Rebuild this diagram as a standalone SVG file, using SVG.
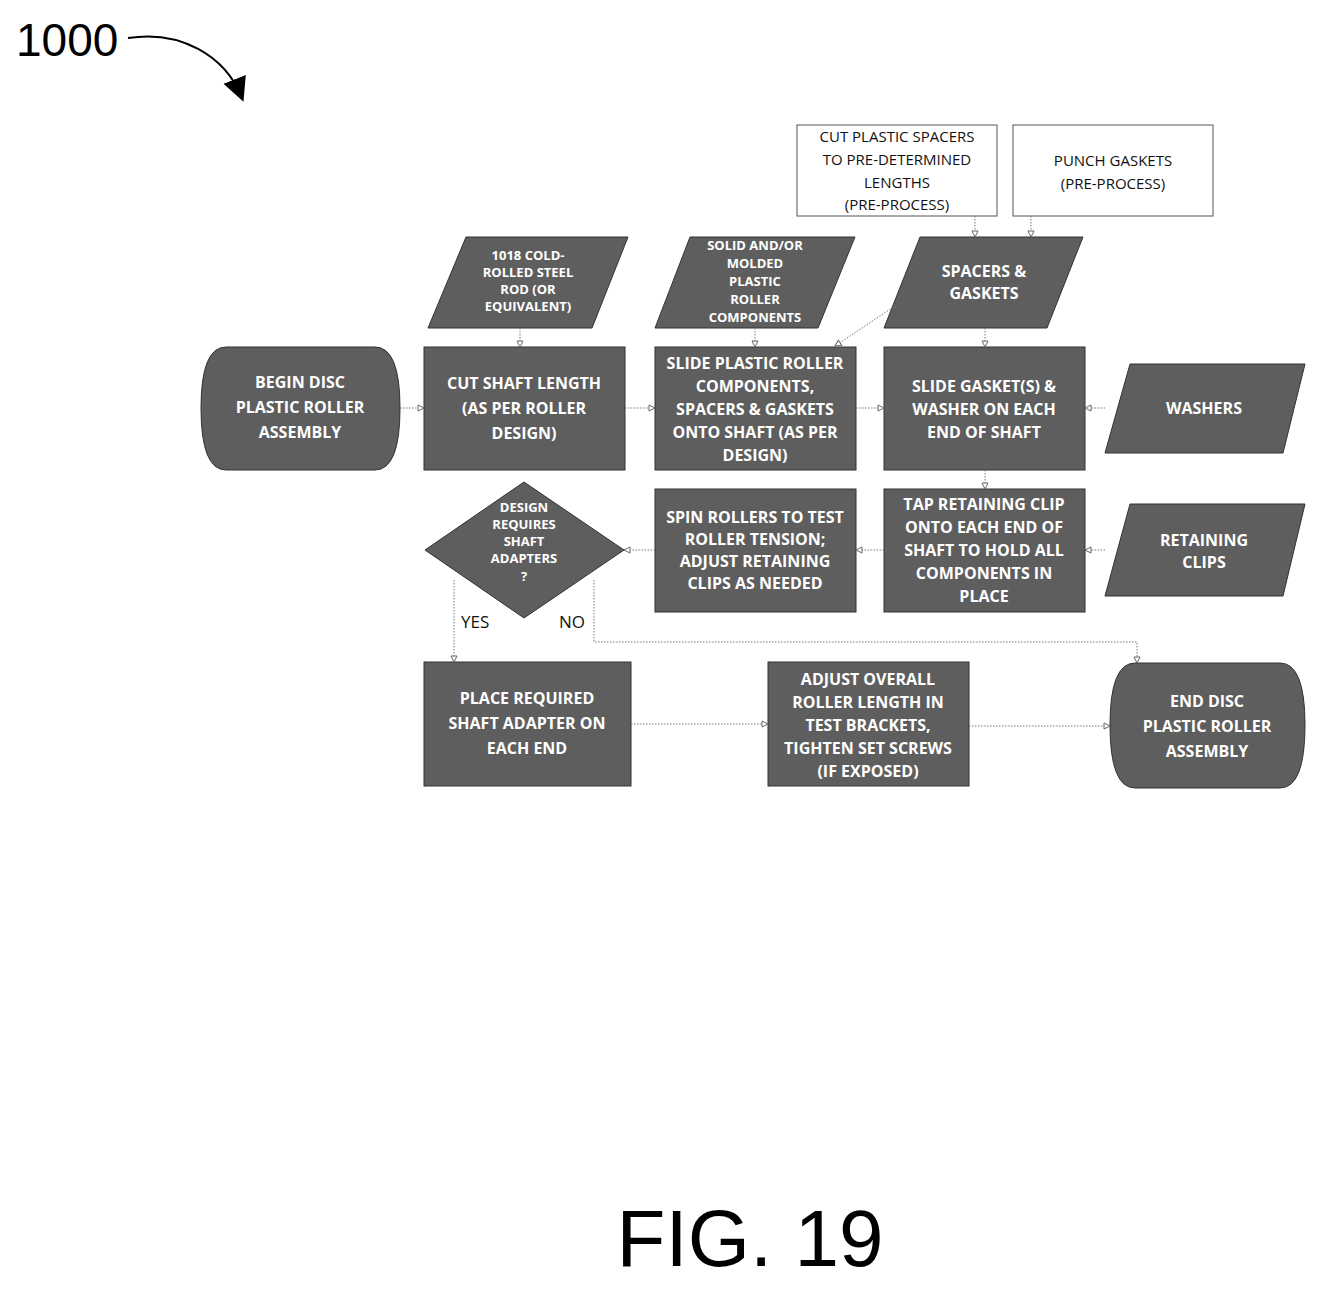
<svg xmlns="http://www.w3.org/2000/svg" width="1327" height="1297" viewBox="0 0 1327 1297">
<defs>
<marker id="ah" markerWidth="8" markerHeight="8" refX="7" refY="4" orient="auto" markerUnits="userSpaceOnUse"><path d="M1,1 L7,4 L1,7 Z" fill="#fff" stroke="#666" stroke-width="1"/></marker>
<marker id="big" markerWidth="30" markerHeight="30" refX="20" refY="12" orient="auto" markerUnits="userSpaceOnUse"><path d="M0,0 L24,12 L0,24 Z" fill="#000"/></marker>
</defs>
<style>
.n{fill:#5e5e5e;stroke:#333;stroke-width:1}
.p{fill:#fff;stroke:#555;stroke-width:1}
.t{font-family:"Open Sans","Liberation Sans",sans-serif;font-weight:bold;fill:#fff;text-anchor:middle;font-size:16px}
.ts{font-size:13px}
.tb{font-family:"Open Sans","Liberation Sans",sans-serif;fill:#111;text-anchor:middle;font-size:15px}
.c{fill:none;stroke:#777;stroke-width:1;stroke-dasharray:1.5 1.5;marker-end:url(#ah)}
</style>
<rect width="1327" height="1297" fill="#fff"/>
<text x="16" y="56" font-family="Liberation Sans,sans-serif" font-size="46">1000</text>
<path d="M128,38 C180,30 225,55 242,98" fill="none" stroke="#000" stroke-width="2" marker-end="url(#big)"/>
<g id="pre1"><rect class="p" x="797" y="125" width="200" height="91"/><text class="tb" x="897" y="142">CUT PLASTIC SPACERS<tspan x="897" dy="23">TO PRE-DETERMINED</tspan><tspan x="897" dy="23">LENGTHS</tspan><tspan x="897" dy="22">(PRE-PROCESS)</tspan></text></g>
<g id="pre2"><rect class="p" x="1013" y="125" width="200" height="91"/><text class="tb" x="1113" y="166">PUNCH GASKETS<tspan x="1113" dy="23">(PRE-PROCESS)</tspan></text></g>
<g id="steel"><polygon class="n" points="466,237 628,237 592,328 428,328"/><text class="t ts" x="528" y="260">1018 COLD-<tspan x="528" dy="17">ROLLED STEEL</tspan><tspan x="528" dy="17">ROD (OR</tspan><tspan x="528" dy="17">EQUIVALENT)</tspan></text></g>
<g id="solid"><polygon class="n" points="690,237 855,237 818,328 655,328"/><text class="t ts" x="755" y="250">SOLID AND/OR<tspan x="755" dy="18">MOLDED</tspan><tspan x="755" dy="18">PLASTIC</tspan><tspan x="755" dy="18">ROLLER</tspan><tspan x="755" dy="18">COMPONENTS</tspan></text></g>
<g id="spacers"><polygon class="n" points="920,237 1083,237 1047,328 884,328"/><text class="t" x="984" y="277">SPACERS &amp;<tspan x="984" dy="22">GASKETS</tspan></text></g>
<g id="begin"><path class="n" d="M226,347 L375,347 Q400,347 400,408 Q400,470 375,470 L226,470 Q201,470 201,408 Q201,347 226,347 Z"/><text class="t" x="300" y="388">BEGIN DISC<tspan x="300" dy="25">PLASTIC ROLLER</tspan><tspan x="300" dy="25">ASSEMBLY</tspan></text></g>
<g id="cut"><rect class="n" x="424" y="347" width="201" height="123"/><text class="t" x="524" y="389" font-size="18">CUT SHAFT LENGTH<tspan x="524" dy="25">(AS PER ROLLER</tspan><tspan x="524" dy="25">DESIGN)</tspan></text></g>
<g id="slide"><rect class="n" x="655" y="347" width="201" height="123"/><text class="t" x="755" y="369">SLIDE PLASTIC ROLLER<tspan x="755" dy="23">COMPONENTS,</tspan><tspan x="755" dy="23">SPACERS &amp; GASKETS</tspan><tspan x="755" dy="23">ONTO SHAFT (AS PER</tspan><tspan x="755" dy="23">DESIGN)</tspan></text></g>
<g id="gasket"><rect class="n" x="884" y="347" width="201" height="123"/><text class="t" x="984" y="392">SLIDE GASKET(S) &amp;<tspan x="984" dy="23">WASHER ON EACH</tspan><tspan x="984" dy="23">END OF SHAFT</tspan></text></g>
<g id="washers"><polygon class="n" points="1130,364 1305,364 1283,453 1105,453"/><text class="t" x="1204" y="414">WASHERS</text></g>
<g id="decision"><polygon class="n" points="524,482 624,550 524,618 425,550"/><text class="t ts" x="524" y="512">DESIGN<tspan x="524" dy="17">REQUIRES</tspan><tspan x="524" dy="17">SHAFT</tspan><tspan x="524" dy="17">ADAPTERS</tspan><tspan x="524" dy="18">?</tspan></text></g>
<g id="spin"><rect class="n" x="655" y="489" width="201" height="123"/><text class="t" x="755" y="523">SPIN ROLLERS TO TEST<tspan x="755" dy="22">ROLLER TENSION;</tspan><tspan x="755" dy="22">ADJUST RETAINING</tspan><tspan x="755" dy="22">CLIPS AS NEEDED</tspan></text></g>
<g id="tap"><rect class="n" x="884" y="489" width="201" height="123"/><text class="t" x="984" y="510">TAP RETAINING CLIP<tspan x="984" dy="23">ONTO EACH END OF</tspan><tspan x="984" dy="23">SHAFT TO HOLD ALL</tspan><tspan x="984" dy="23">COMPONENTS IN</tspan><tspan x="984" dy="23">PLACE</tspan></text></g>
<g id="clips"><polygon class="n" points="1130,504 1305,504 1283,596 1105,596"/><text class="t" x="1204" y="546">RETAINING<tspan x="1204" dy="22">CLIPS</tspan></text></g>
<g id="place"><rect class="n" x="424" y="662" width="207" height="124"/><text class="t" x="527" y="704" font-size="17">PLACE REQUIRED<tspan x="527" dy="25">SHAFT ADAPTER ON</tspan><tspan x="527" dy="25">EACH END</tspan></text></g>
<g id="adjust"><rect class="n" x="768" y="662" width="201" height="124"/><text class="t" x="868" y="685">ADJUST OVERALL<tspan x="868" dy="23">ROLLER LENGTH IN</tspan><tspan x="868" dy="23">TEST BRACKETS,</tspan><tspan x="868" dy="23">TIGHTEN SET SCREWS</tspan><tspan x="868" dy="23">(IF EXPOSED)</tspan></text></g>
<g id="end"><path class="n" d="M1135,663 L1280,663 Q1305,663 1305,725 Q1305,788 1280,788 L1135,788 Q1110,788 1110,725 Q1110,663 1135,663 Z"/><text class="t" x="1207" y="707" font-size="17">END DISC<tspan x="1207" dy="25">PLASTIC ROLLER</tspan><tspan x="1207" dy="25">ASSEMBLY</tspan></text></g>
<g font-family="Open Sans,Liberation Sans,sans-serif" font-size="17" fill="#111"><text x="461" y="628">YES</text><text x="559" y="628">NO</text></g>
<g id="connectors">
<path class="c" d="M400,408 H424"/>
<path class="c" d="M625,408 H655"/>
<path class="c" d="M856,408 H884"/>
<path class="c" d="M1105,408 H1085"/>
<path class="c" d="M520,328 V347"/>
<path class="c" d="M755,328 V347"/>
<path class="c" d="M898,304 L835,346"/>
<path class="c" d="M985,328 V347"/>
<path class="c" d="M975,216 V237"/>
<path class="c" d="M1031,216 V237"/>
<path class="c" d="M985,470 V489"/>
<path class="c" d="M1105,550 H1085"/>
<path class="c" d="M884,550 H856"/>
<path class="c" d="M655,550 H624"/>
<path class="c" d="M454,580 V662"/>
<path class="c" d="M594,580 V642 H1137 V663"/>
<path class="c" d="M631,724 H768"/>
<path class="c" d="M969,726 H1110"/>
</g>
<text x="750" y="1266" font-family="Liberation Sans,sans-serif" font-size="80" text-anchor="middle">FIG. 19</text>
</svg>
